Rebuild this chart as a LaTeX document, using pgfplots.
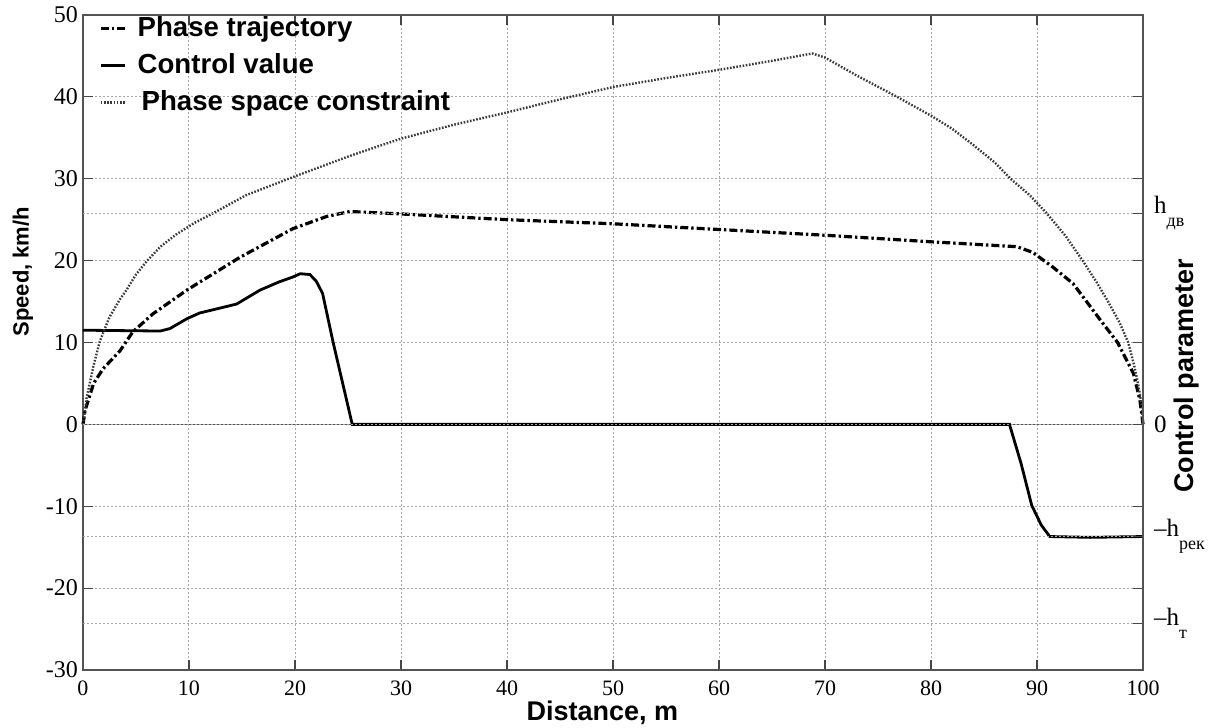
\documentclass[border=0pt]{standalone}
\usepackage{fontspec}
\setmainfont{Liberation Serif}
\newfontfamily\arialf{Liberation Sans}
\usepackage{pgfplots}
\pgfplotsset{compat=1.18}

% control value (solid), phase trajectory (dash-dot), constraint (dotted)
\pgfplotstableread{
x y
0 0
0.35 3.3
1.0 7.2
1.6 10.2
2.5 13.1
3.5 15.3
4.1 16.4
5.0 18.3
6.0 19.9
7.3 21.7
8.8 23.2
10.5 24.6
12.3 25.8
15.4 28.0
19.8 30.2
25.2 32.8
30 34.9
35 36.6
40 38.1
45 39.7
50 41.2
55 42.3
60 43.3
65 44.4
68.8 45.3
70 44.8
73 42.6
76.8 40.0
80 37.7
82 36.1
84 34.1
86 32.0
87.5 30.0
89.3 28.0
90.9 25.8
92.7 23.0
94.3 20.0
95.6 17.4
96.7 15.0
97.8 12.4
98.6 10.0
99.2 7.0
99.6 4.5
99.9 2.0
100 0
}\constraint

\pgfplotstableread{
x y
0 0
0.2 1.7
1.0 5.0
1.9 6.8
3.5 9.0
4.7 11.3
6.6 13.5
9.8 16.4
14.8 20.4
19.8 23.9
23 25.4
25.2 26.0
30 25.7
40 25.0
50 24.5
60 23.8
70 23.1
80 22.3
88.1 21.7
89.6 21.0
91.5 19.2
93.4 17.2
96 12.7
97.6 10.0
99.1 6.2
99.7 3.0
100 0
}\trajectory

\pgfplotstableread{
x y
0 11.5
7.3 11.4
8.2 11.7
9.8 12.9
11 13.6
12.6 14.1
14.5 14.7
16.7 16.4
18.5 17.4
19.8 18.0
20.5 18.4
21.4 18.3
22.0 17.5
22.6 16.0
23.6 10.0
25.4 0
87.4 0
88.5 -4.8
89.5 -9.9
90.4 -12.3
91.2 -13.7
95 -13.8
100 -13.7
}\control

\pgfplotsset{
  frame/.style={width=530pt,height=327.5pt,scale only axis,
    xmin=0,xmax=100,ymin=-30,ymax=50,clip=false,
    axis line style={gray!65!black,line width=0.6pt},
    major tick style={gray!55!black,line width=0.6pt},
    major tick length=5pt,tick align=inside,
    grid style={gray!70,line width=0.5pt,dash pattern=on 1pt off 1pt},
    /pgf/number format/assume math mode=true},
}

\begin{document}
\begin{tikzpicture}
\begin{axis}[frame,
  xtick={0,10,...,100},ytick={-30,-20,...,50},
  xtick pos=both,ytick pos=both,
  xmajorgrids,ymajorgrids,
  xticklabel style={font=\fontsize{11}{12}\selectfont,yshift=-2pt},
  yticklabel style={font=\fontsize{12}{14}\selectfont,xshift=1pt},
  xlabel={\arialf\bfseries Distance, m},
  xlabel style={font=\fontsize{13.5}{16}\selectfont,at={(rel axis cs:0.49,-0.066)},anchor=center},
  ylabel={\arialf\bfseries Speed, km/h},
  ylabel style={font=\fontsize{11}{13}\selectfont,at={(rel axis cs:-0.0566,0.608)},anchor=center},
  legend style={at={(rel axis cs:0.013,1.007)},anchor=north west,draw=none,fill=none,
    font=\arialf\bfseries\fontsize{13.8}{16}\selectfont,row sep=3pt,
    cells={anchor=west},inner sep=1pt},
  legend image code/.code={\draw[#1] (0cm,0cm) -- (0.42cm,0cm); \path (0.55cm,0cm);},
]
\addplot[gray!65!black,line width=0.6pt,forget plot] coordinates {(0,0) (100,0)};
\addplot[black,line width=1.6pt,dash pattern=on 4pt off 1.5pt on 1.2pt off 1.5pt] table {\trajectory};
\addlegendentry{Phase trajectory}
\addplot[black,line width=1.4pt] table {\control};
\addlegendentry{Control value}
\addplot[gray!45!black,line width=1.2pt,dash pattern=on 0.8pt off 0.8pt] table {\constraint};
\addlegendentry{\hspace{2pt}Phase space constraint}
\coordinate (bbl) at (rel axis cs:-0.0783,-0.0885);
\coordinate (btr) at (rel axis cs:1.0613,1.0229);
\end{axis}
\begin{axis}[frame,
  axis x line=none,axis y line*=right,
  ytick={25.8,0,-13.7,-24.3},
  yticklabels={h\raisebox{-1.1ex}{\fontsize{9}{10}\selectfont дв},0,--h\raisebox{-1.1ex}{\fontsize{9}{10}\selectfont рек},--h\raisebox{-1.1ex}{\fontsize{9}{10}\selectfont т}},
  ymajorgrids,
  yticklabel style={font=\fontsize{12.5}{14}\selectfont,anchor=west,xshift=2pt},
  ylabel={\arialf\bfseries Control parameter},
  ylabel style={font=\fontsize{13.5}{16}\selectfont,at={(rel axis cs:1.0406,0.449)},anchor=center},
]
\addplot[draw=none,forget plot] coordinates {(0,0) (100,0)};
\end{axis}
\pgfresetboundingbox
\path[use as bounding box] (bbl) rectangle (btr);
\end{tikzpicture}
\end{document}
